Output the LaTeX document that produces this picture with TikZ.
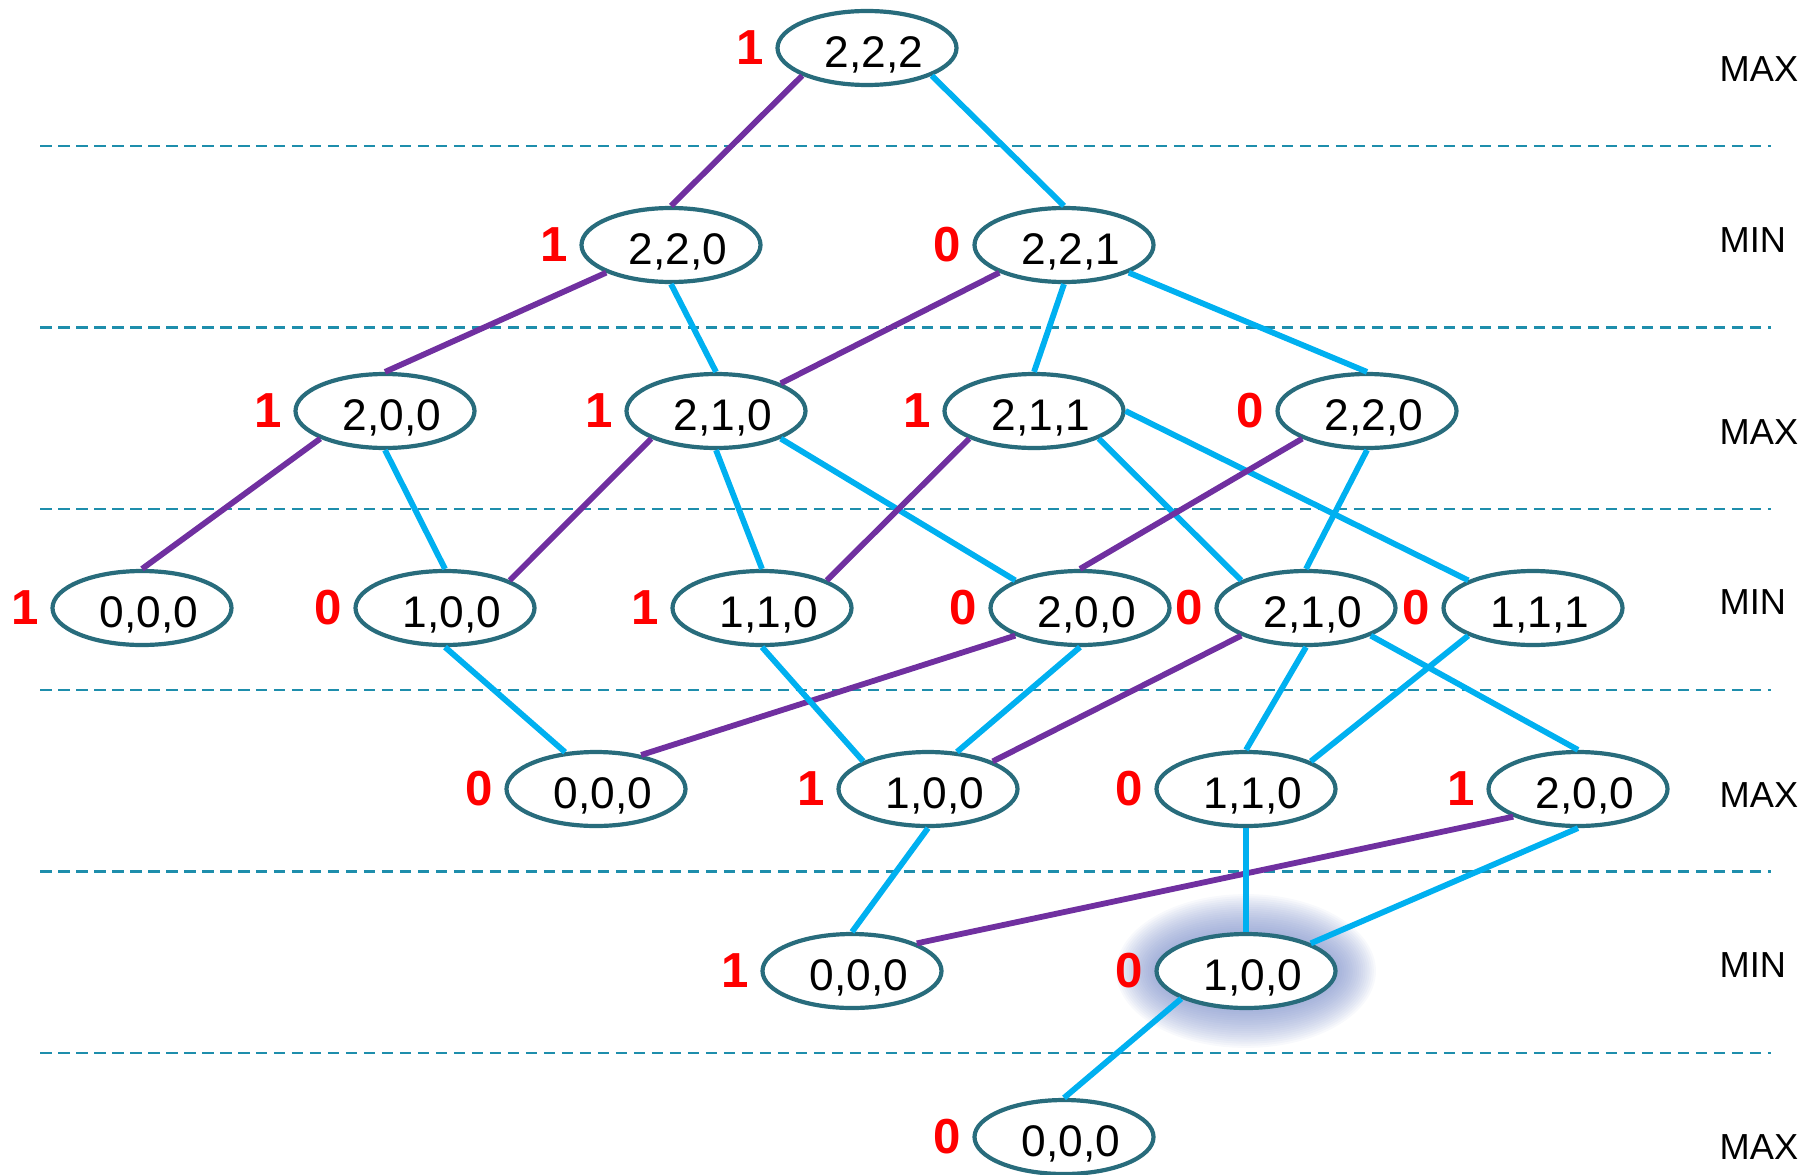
\documentclass[tikz,border=0pt]{standalone}
\usepackage{fontspec}
\setmainfont{Liberation Sans}
\usepackage{xcolor}
\usepackage{tikz}
\usetikzlibrary{shapes.geometric, backgrounds}
\definecolor{MMTeal}{RGB}{40, 108, 124}
\definecolor{MMSky}{RGB}{0, 176, 240}
\definecolor{MMPurple}{RGB}{112, 48, 160}
\definecolor{MMRed}{RGB}{255, 0, 0}
\definecolor{MMDash}{RGB}{30, 142, 172}
\definecolor{MMGlow}{RGB}{120, 140, 200}

\tikzset{
  state/.style={ellipse, draw=MMTeal, line width=0.42mm, fill=white,
    minimum width=17.9mm, minimum height=7.4mm, inner sep=0pt,
    text height=4.3mm, text depth=0.36mm,
    execute at begin node=\hspace*{1.4mm},
    font=\fontsize{12.6}{14}\selectfont},
  val/.style={text=MMRed, inner sep=0pt, text height=, text depth=, xshift=-1.1mm,
    font=\fontsize{14}{15}\selectfont\bfseries},
  score/.style={label={[val]left:#1}},
  lvl/.style={anchor=west, inner sep=0pt, font=\fontsize{10.3}{12}\selectfont},
  optline/.style={draw=MMPurple, line width=0.58mm},
  moveline/.style={draw=MMSky, line width=0.58mm},
  divider/.style={draw=MMDash, line width=0.24mm, dash pattern=on 1.15mm off 0.65mm}
}

\begin{document}
\begin{tikzpicture}[x=0.1mm, y=-0.1mm]
    \useasboundingbox (0,0) rectangle (1809,1174);

    \foreach \y in {146,327.5,509,690,871.5,1053}
      \draw[divider] (40,\y) -- (1771,\y);
    \foreach \y/\t in {69/MAX, 240/MIN, 432/MAX, 602/MIN, 795/MAX, 965/MIN, 1147/MAX}
      \node[lvl] (lvl\y) at (1719,\y) {\t};

    \node[state, score=1] (a) at (867,48) {2,2,2};
    \node[state, score=1] (b1) at (671,245) {2,2,0};
    \node[state, score=0] (b2) at (1064,245) {2,2,1};
    \node[state, score=1] (c1) at (385,411) {2,0,0};
    \node[state, score=1] (c2) at (716,411) {2,1,0};
    \node[state, score=1] (c3) at (1034,411) {2,1,1};
    \node[state, score=0] (c4) at (1367,411) {2,2,0};
    \node[state, score=1] (d1) at (142,608) {0,0,0};
    \node[state, score=0] (d2) at (445,608) {1,0,0};
    \node[state, score=1] (d3) at (762,608) {1,1,0};
    \node[state, score=0] (d4) at (1080,608) {2,0,0};
    \node[state, score=0] (d5) at (1306,608) {2,1,0};
    \node[state, score=0] (d6) at (1533,608) {1,1,1};
    \node[state, score=0] (e1) at (596,789) {0,0,0};
    \node[state, score=1] (e2) at (928,789) {1,0,0};
    \node[state, score=0] (e3) at (1246,789) {1,1,0};
    \node[state, score=1] (e4) at (1578,789) {2,0,0};
    \node[state, score=1] (f1) at (852,971) {0,0,0};
    \node[state, score=0] (f2) at (1246,971) {1,0,0};
    \node[state, score=0] (g1) at (1064,1137) {0,0,0};

    \begin{scope}[on background layer]
      \foreach \k in {0,...,19}
        \fill[MMGlow, opacity=0.055] (f2.center) ellipse ({90+2.1*\k} and {37+2.1*\k});
    \end{scope}

    \draw[optline] (a.south west) -- (b1.north);
    \draw[moveline] (a.south east) -- (b2.north);
    \draw[optline] (b1.south west) -- (c1.north);
    \draw[moveline] (b1.south) -- (c2.north);
    \draw[optline] (b2.south west) -- (c2.north east);
    \draw[moveline] (b2.south) -- (c3.north);
    \draw[moveline] (b2.south east) -- (c4.north);
    \draw[optline] (c1.south west) -- (d1.north);
    \draw[moveline] (c1.south) -- (d2.north);
    \draw[optline] (c2.south west) -- (d2.north east);
    \draw[moveline] (c2.south) -- (d3.north);
    \draw[moveline] (c2.south east) -- (d4.north west);
    \draw[optline] (c3.south west) -- (d3.north east);
    \draw[moveline] (c3.south east) -- (d5.north west);
    \draw[moveline] (c3.east) -- (d6.north west);
    \draw[optline] (c4.south west) -- (d4.north);
    \draw[moveline] (c4.south) -- (d5.north);
    \draw[moveline] (d2.south) -- (e1.130);
    \draw[optline] (d4.south west) -- (e1.37);
    \draw[moveline] (d3.south) -- (e2.north west);
    \draw[moveline] (d4.south) -- (e2.52);
    \draw[optline] (d5.south west) -- (e2.north east);
    \draw[moveline] (d5.south) -- (e3.north);
    \draw[moveline] (d5.south east) -- (e4.north);
    \draw[moveline] (d6.south west) -- (e3.north east);
    \draw[moveline] (e2.south) -- (f1.north);
    \draw[optline] (e4.south west) -- (f1.north east);
    \draw[moveline] (e3.south) -- (f2.north);
    \draw[moveline] (e4.south) -- (f2.north east);
    \draw[moveline] (f2.south west) -- (g1.north);
\end{tikzpicture}
\end{document}
